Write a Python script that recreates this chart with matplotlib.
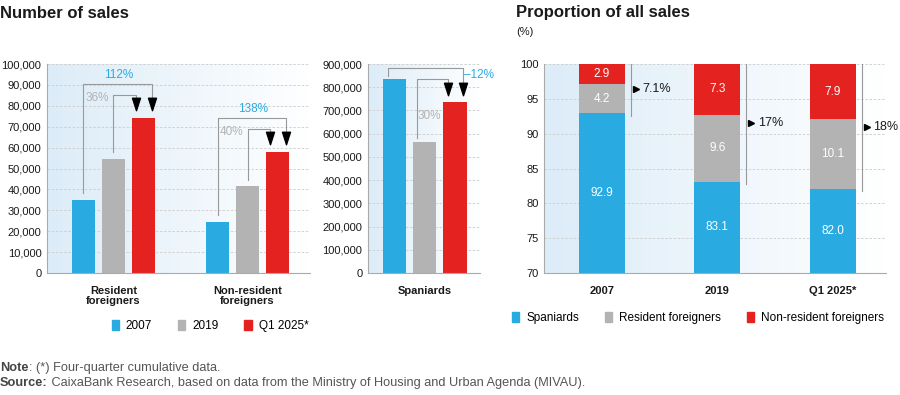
import numpy as np
import matplotlib.pyplot as plt
from matplotlib.patches import Patch
from matplotlib.path import Path
from matplotlib.colors import LinearSegmentedColormap

# ==============================
# DATA
# ==============================
periods = ["2007", "2019", "Q1 2025*"]
groups_foreign = ["Resident\nforeigners", "Non-resident\nforeigners"]
sales_resident = [34900, 54700, 74400]
sales_nonresident = [24300, 41400, 58100]
sales_spaniards = [834000, 565000, 735000]

growth_labels_foreign = [("112%", "36%"), ("138%", "40%")]
growth_labels_spain = ("\u201312%", "30%")

share_spaniards = [92.9, 83.1, 82.0]
share_resident = [4.2, 9.6, 10.1]
share_nonresident = [2.9, 7.3, 7.9]
share_foreign_labels = ["7.1%", "17%", "18%"]

# ==============================
# STYLE
# ==============================
BLUE = "#29abe2"
GRAY = "#b3b3b3"
RED = "#e42320"
COLORS = [BLUE, GRAY, RED]
TXT = "#1a1a1a"
LINE = "#999999"
plt.rcParams["font.family"] = ["Liberation Sans", "DejaVu Sans"]

# seta estreita (mais alta que larga)
SETA = Path([(-0.32, 0.5), (0.32, 0.5), (0, -0.5), (-0.32, 0.5)],
            [Path.MOVETO, Path.LINETO, Path.LINETO, Path.CLOSEPOLY])

W, H = 900, 395
fig = plt.figure(figsize=(9, 3.95), dpi=100)


def px_axes(x0, x1, ytop, ybot):
    return fig.add_axes([x0 / W, (H - ybot) / H, (x1 - x0) / W, (ybot - ytop) / H])


def fondo(ax):
    grad = np.linspace(0, 1, 256).reshape(1, -1)
    cmap = LinearSegmentedColormap.from_list("bg", ["#dcecf8", "#ffffff"])
    ax.imshow(grad, extent=[0, 1, 0, 1], transform=ax.transAxes, cmap=cmap,
              aspect="auto", zorder=0)


def estilo(ax):
    for s in ["top", "right"]:
        ax.spines[s].set_visible(False)
    for s in ["left", "bottom"]:
        ax.spines[s].set_color("#aaaaaa")
        ax.spines[s].set_linewidth(0.8)
    ax.tick_params(length=0, labelsize=8, colors=TXT, pad=4)
    ax.yaxis.grid(True, color="#cccccc", linestyle=(0, (3, 2)), linewidth=0.6)
    ax.set_axisbelow(True)
    fondo(ax)


def colchete(ax, x0, y0, x1, ytop, ytip, color=LINE):
    ax.plot([x0, x0, x1, x1], [y0, ytop, ytop, ytip], color=color, lw=0.8, zorder=3)


fmt = lambda v, p: f"{int(v):,}"

# ==============================
# NUMBER OF SALES - FOREIGNERS
# ==============================
ax1 = px_axes(47, 310, 64, 273)
estilo(ax1)
d, w = 0.224, 0.172
xg = np.arange(len(groups_foreign))
series = list(zip(sales_resident, sales_nonresident))
for i, vals in enumerate(series):
    ax1.bar(xg + (i - 1) * d, vals, width=w, color=COLORS[i], zorder=2)
ax1.set_xlim(-0.496, 1.466)
ax1.set_ylim(0, 100000)
ax1.set_yticks(range(0, 100001, 10000))
ax1.yaxis.set_major_formatter(plt.FuncFormatter(fmt))
ax1.set_xticks(xg)
ax1.set_xticklabels(groups_foreign, fontweight="bold", fontsize=8, linespacing=1.1)
ax1.tick_params(axis="x", pad=9)

for g, serie in enumerate([sales_resident, sales_nonresident]):
    v07, v19, v25 = serie
    tip = v25 + 4000
    inner = tip + 7000
    outer = inner + 5000
    xr = g + d
    colchete(ax1, g - d, v07 + 3500, xr + 0.06, outer, tip + 3000)
    colchete(ax1, g, v19 + 3000, xr - 0.055, inner, tip + 3000)
    ax1.plot([xr + 0.06, xr - 0.055], [tip + 2500] * 2, marker=SETA, ls="none",
             color="black", markersize=9, zorder=4)
    lab_out, lab_in = growth_labels_foreign[g]
    ax1.text(g + 0.04, outer + 1500, lab_out, color=BLUE, fontsize=8.5,
             ha="center", va="bottom")
    ax1.text(g - 0.03, inner - 1800, lab_in, color=GRAY, fontsize=8.5,
             ha="right", va="center")

# ==============================
# NUMBER OF SALES - SPANIARDS
# ==============================
ax2 = px_axes(368, 480, 64, 273)
estilo(ax2)
for i, v in enumerate(sales_spaniards):
    ax2.bar((i - 1) * d, v, width=w, color=COLORS[i], zorder=2)
ax2.set_xlim(-0.42, 0.41)
ax2.set_ylim(0, 900000)
ax2.set_yticks(range(0, 900001, 100000))
ax2.yaxis.set_major_formatter(plt.FuncFormatter(fmt))
ax2.set_xticks([0])
ax2.set_xticklabels(["Spaniards"], fontweight="bold", fontsize=8)
ax2.tick_params(axis="x", pad=9)

v07, v19, v25 = sales_spaniards
tip = v25 + 39000
colchete(ax2, -d - 0.045, v07 + 16000, d + 0.06, v07 + 47000, tip + 20000)
colchete(ax2, -0.06, v19 + 15000, d - 0.05, v07, tip + 20000)
ax2.plot([d + 0.06, d - 0.05], [tip + 18000] * 2, marker=SETA, ls="none",
         color="black", markersize=9, zorder=4)
ax2.text(d + 0.07, v07 + 18000, growth_labels_spain[0], color=BLUE, fontsize=8.5,
         ha="left", va="center", clip_on=False)
ax2.text(-0.05, 676000, growth_labels_spain[1], color=GRAY, fontsize=8.5,
         ha="left", va="center")

# ==============================
# PROPORTION OF ALL SALES
# ==============================
ax3 = px_axes(544, 886, 64, 273)
estilo(ax3)
xp = np.arange(len(periods))
bw = 0.4
bottom = np.zeros(len(periods))
for vals, cor in zip([share_spaniards, share_resident, share_nonresident], COLORS):
    ax3.bar(xp, vals, width=bw, bottom=bottom, color=cor, zorder=2)
    for x, b, v in zip(xp, bottom, vals):
        centro = max(b, 70) + (b + v - max(b, 70)) / 2
        ax3.text(x, centro, f"{v:.1f}", color="white", fontsize=8.5,
                 ha="center", va="center", zorder=5)
    bottom = bottom + np.array(vals)
ax3.set_xlim(-0.5, 2.46)
ax3.set_ylim(70, 100)
ax3.set_yticks(range(70, 101, 5))
ax3.set_xticks(xp)
ax3.set_xticklabels(periods, fontweight="bold", fontsize=8)
ax3.tick_params(axis="x", pad=9)

for x, s, lab in zip(xp, share_spaniards, share_foreign_labels):
    xl = x + bw / 2 + 0.05
    ax3.plot([xl, xl], [s - 0.3, 100], color=LINE, lw=0.8, zorder=3, clip_on=False)
    ymid = s + (100 - s) / 2
    ax3.plot(xl + 0.045, ymid, ">", color="black", markersize=5, zorder=4, clip_on=False)
    ax3.text(xl + 0.1, ymid, lab, fontsize=9, color=TXT, ha="left", va="center",
             clip_on=False)

# ==============================
# TITLES & LEGENDS
# ==============================
fig.text(0 / W, 1 - 13 / H, "Number of sales", fontsize=12, fontweight="bold",
         color=TXT, va="center")
fig.text(516 / W, 1 - 13 / H, "Proportion of all sales", fontsize=12,
         fontweight="bold", color=TXT, va="center")
fig.text(516 / W, 1 - 32 / H, "(%)", fontsize=8, color=TXT, va="center")

h1 = [Patch(color=c, label=l) for c, l in zip(COLORS, periods)]
fig.legend(handles=h1, loc="center", bbox_to_anchor=(210 / W, 1 - 326 / H), ncol=3,
           frameon=False, handlelength=0.6, handleheight=0.9, handletextpad=0.6,
           columnspacing=2.2, prop={"size": 8.5})
h2 = [Patch(color=c, label=l) for c, l in
      zip(COLORS, ["Spaniards", "Resident foreigners", "Non-resident foreigners"])]
fig.legend(handles=h2, loc="center", bbox_to_anchor=(698 / W, 1 - 318 / H), ncol=3,
           frameon=False, handlelength=0.6, handleheight=0.9, handletextpad=0.6,
           columnspacing=2.2, prop={"size": 8.5})

# ==============================
# FOOTNOTES
# ==============================
renderer = fig.canvas.get_renderer()
for y, negrito, resto in [
    (368, "Note", ": (*) Four-quarter cumulative data."),
    (383, "Source:", " CaixaBank Research, based on data from the Ministry of Housing "
                     "and Urban Agenda (MIVAU)."),
]:
    t = fig.text(0, 1 - y / H, negrito, fontsize=9.2, fontweight="bold", color="#444444",
                 va="center")
    bb = t.get_window_extent(renderer)
    fig.text(bb.x1 / W, 1 - y / H, resto, fontsize=9.2, color="#555555", va="center")

fig.savefig("out.png", dpi=100)
